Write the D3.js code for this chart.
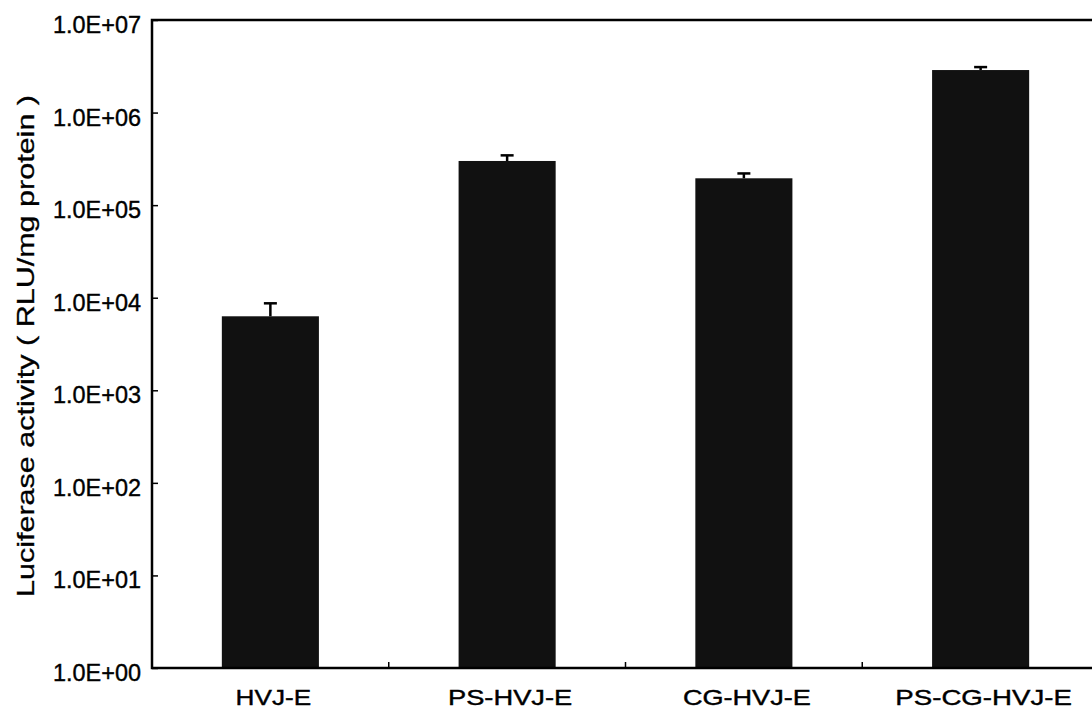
<!DOCTYPE html>
<html>
<head>
<meta charset="utf-8">
<script src="https://cdn.jsdelivr.net/npm/d3@7/dist/d3.min.js"></script>
<style>
  html, body { margin: 0; padding: 0; background: #fff; }
  svg { display: block; font-family: "Liberation Sans", Arial, sans-serif; }
</style>
</head>
<body>
<div class="root"></div>
<script>
var categories = ['HVJ-E', 'PS-HVJ-E', 'CG-HVJ-E', 'PS-CG-HVJ-E'];
var values = [6300, 300000, 195000, 2880000];
var errors = [2400, 45000, 25000, 220000];
var tickValues = [1, 10, 100, 1000, 10000, 100000, 1000000, 10000000];
var tickLabels = ['1.0E+00', '1.0E+01', '1.0E+02', '1.0E+03', '1.0E+04', '1.0E+05', '1.0E+06', '1.0E+07'];
var yTitle = 'Luciferase activity ( RLU/mg protein )';

function runChart() {
  var w = 1092, h = 712;
  var left = 152, right = 1099, top = 20, bottom = 668;

  var svg = d3.select('.root').append('svg')
    .attr('width', w)
    .attr('height', h);

  var x = d3.scaleBand()
    .domain(categories)
    .range([left, right])
    .paddingInner(0.59)
    .paddingOuter(0.295);

  var y = d3.scaleLog()
    .domain([1, 1e7])
    .range([bottom, top]);

  // bars
  svg.append('g')
    .selectAll('rect')
    .data(categories)
    .enter().append('rect')
      .attr('x', function(d) { return x(d); })
      .attr('y', function(d, i) { return y(values[i]); })
      .attr('width', x.bandwidth())
      .attr('height', function(d, i) { return y(1) - y(values[i]); })
      .style('fill', '#111');

  // error bars (upper only)
  var err = svg.append('g')
    .attr('stroke', '#000')
    .attr('stroke-width', 2.5);

  err.selectAll('line.stem')
    .data(categories)
    .enter().append('line')
      .attr('class', 'stem')
      .attr('x1', function(d) { return x(d) + x.bandwidth() / 2; })
      .attr('x2', function(d) { return x(d) + x.bandwidth() / 2; })
      .attr('y1', function(d, i) { return y(values[i]); })
      .attr('y2', function(d, i) { return y(values[i] + errors[i]); });

  err.selectAll('line.cap')
    .data(categories)
    .enter().append('line')
      .attr('class', 'cap')
      .attr('x1', function(d) { return x(d) + x.bandwidth() / 2 - 6.5; })
      .attr('x2', function(d) { return x(d) + x.bandwidth() / 2 + 6.5; })
      .attr('y1', function(d, i) { return y(values[i] + errors[i]); })
      .attr('y2', function(d, i) { return y(values[i] + errors[i]); });

  // frame
  svg.append('rect')
    .attr('x', left)
    .attr('y', top)
    .attr('width', right - left)
    .attr('height', bottom - top)
    .style('fill', 'none')
    .style('stroke', '#000')
    .style('stroke-width', 2.5);

  // y axis
  var yAxis = d3.axisRight(y)
    .tickValues(tickValues)
    .tickSize(6)
    .tickFormat(function(d, i) { return tickLabels[i]; });

  var ya = svg.append('g')
    .attr('transform', 'translate(' + left + ',0)')
    .call(yAxis);
  ya.select('.domain').remove();
  ya.selectAll('line').attr('stroke', '#000').attr('stroke-width', 1.5);
  ya.selectAll('text')
    .attr('x', -11)
    .attr('dy', '0.52em')
    .attr('text-anchor', 'end')
    .attr('textLength', 88)
    .attr('lengthAdjust', 'spacingAndGlyphs')
    .style('font-size', '24px')
    .style('fill', '#000')
    .style('stroke', '#000')
    .style('stroke-width', 0.4);

  // x axis: ticks at category boundaries
  var step = x.step();
  var bounds = categories.slice(1).map(function(d) { return x(d) - x.paddingInner() * step / 2; });
  svg.append('g')
    .selectAll('line')
    .data(bounds)
    .enter().append('line')
      .attr('x1', function(d) { return d; })
      .attr('x2', function(d) { return d; })
      .attr('y1', bottom)
      .attr('y2', bottom - 6)
      .attr('stroke', '#000')
      .attr('stroke-width', 1.5);

  // category labels, stretched a bit as the original font has wide hyphens
  svg.append('g')
    .selectAll('text')
    .data(categories)
    .enter().append('text')
      .attr('x', function(d) { return x(d) + x.bandwidth() / 2 + 3; })
      .attr('y', 705)
      .attr('text-anchor', 'middle')
      .style('font-size', '22px')
      .style('fill', '#000')
      .style('stroke', '#000')
      .style('stroke-width', 0.4)
      .text(function(d) { return d; })
      .each(function(d) {
        var len = this.getComputedTextLength();
        var hy = d.split('-').length - 1;
        d3.select(this).attr('textLength', len + hy * 12).attr('lengthAdjust', 'spacingAndGlyphs');
      });

  // y title
  svg.append('text')
    .attr('transform', 'translate(34,346) rotate(-90)')
    .attr('text-anchor', 'middle')
    .attr('textLength', 502)
    .attr('lengthAdjust', 'spacingAndGlyphs')
    .style('font-size', '24px')
    .style('fill', '#000')
    .style('stroke', '#000')
    .style('stroke-width', 0.3)
    .text(yTitle);
}

window.onload = function() {
  runChart();
};
</script>
</body>
</html>
